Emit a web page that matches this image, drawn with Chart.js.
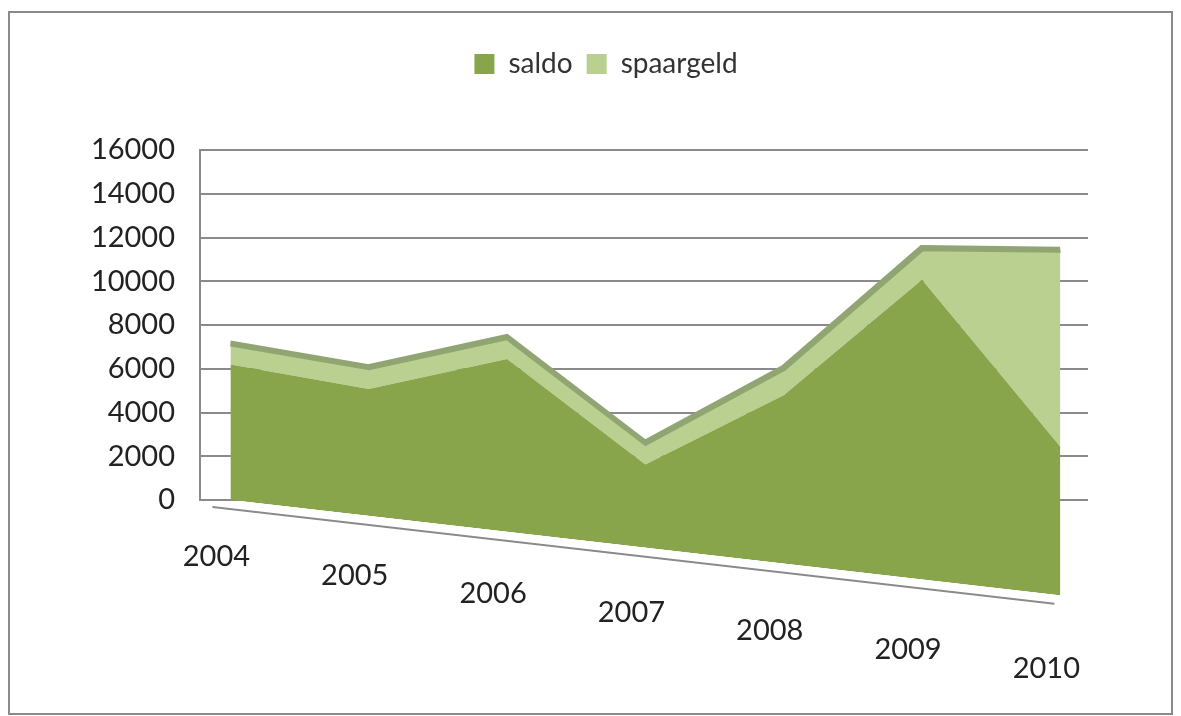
<!DOCTYPE html>
<html>
<head>
<meta charset="utf-8">
<title>saldo / spaargeld</title>
<script src="https://cdn.jsdelivr.net/npm/chart.js@4.4.1/dist/chart.umd.min.js"></script>
<style>
  html, body { margin: 0; padding: 0; background: #fff; }
  #wrap { position: relative; width: 1181px; height: 716px; }
  #frame {
    position: absolute; left: 8px; top: 11px; width: 1161px; height: 700px;
    border: 2px solid #8a8a8a; box-sizing: content-box;
  }
  canvas { position: absolute; left: 0; top: 0; }
</style>
</head>
<body>
<div id="wrap">
  <div id="frame"></div>
  <canvas id="chart" width="1181" height="716"></canvas>
</div>
<script>
/* ── Data ── */
const years = ['2004', '2005', '2006', '2007', '2008', '2009', '2010'];
const saldo = [6200, 5800, 7900, 3800, 7700, 13700, 6800];
const spaargeld = [950, 1000, 1000, 1000, 1250, 1450, 9000];
const yTicks = [0, 2000, 4000, 6000, 8000, 10000, 12000, 14000, 16000];

const FONT = 'Lato, "Open Sans", sans-serif';
const SLOPE = 0.115;       // fake 3D tilt of the front face
const LABEL_SLOPE = 0.134; // category labels step down the floor

/* ── Plugins ── */
// extra room under the legend, and nudge it right like the original
const legendGap = {
  id: 'legendGap',
  beforeInit(chart) {
    const legend = chart.legend;
    const fit = legend.fit;
    legend.fit = function () {
      fit.bind(legend)();
      this.height += 62;
    };
    const draw = legend.draw;
    legend.draw = function (...args) {
      this.ctx.save();
      this.ctx.translate(37, 0);
      draw.apply(legend, args);
      this.ctx.restore();
    };
  },
};

// tilt the areas so the baseline runs down to the right
const tilt = {
  id: 'tilt',
  beforeDatasetsDraw(chart) {
    const { ctx, chartArea, scales } = chart;
    const x0 = scales.x.getPixelForValue(0);
    ctx.save();
    ctx.transform(1, SLOPE, 0, 1, 0, -SLOPE * x0);
    // floor edge
    ctx.strokeStyle = '#8a8a8a';
    ctx.lineWidth = 2;
    ctx.beginPath();
    ctx.moveTo(x0 - 18, chartArea.bottom + 9);
    ctx.lineTo(scales.x.getPixelForValue(years.length - 1) - 6, chartArea.bottom + 9);
    ctx.stroke();
  },
  afterDatasetsDraw(chart) {
    chart.ctx.restore();
  },
};

// category labels, stepping down with the floor
const yearLabels = {
  id: 'yearLabels',
  afterDraw(chart) {
    const { ctx, chartArea, scales } = chart;
    const x0 = scales.x.getPixelForValue(0);
    ctx.save();
    ctx.font = '29px ' + FONT;
    ctx.fillStyle = '#222';
    ctx.textAlign = 'center';
    ctx.textBaseline = 'middle';
    years.forEach((yr, i) => {
      const px = scales.x.getPixelForValue(i);
      ctx.fillText(yr, px - 14, chartArea.bottom + 57 + LABEL_SLOPE * (px - x0));
    });
    ctx.restore();
  },
};

/* ── Chart ── */
new Chart(document.getElementById('chart'), {
  type: 'line',
  data: {
    datasets: [
      {
        label: 'saldo',
        data: saldo.map((v, i) => ({ x: i, y: v })),
        backgroundColor: '#88a54b',
        borderColor: '#88a54b',
        borderWidth: 0,
        fill: 'origin',
        pointRadius: 0,
        tension: 0,
        clip: false,
      },
      {
        label: 'spaargeld',
        data: spaargeld.map((v, i) => ({ x: i, y: v })),
        backgroundColor: '#b9d090',
        borderColor: '#91a572',
        borderWidth: 6,
        fill: '-1',
        pointRadius: 0,
        tension: 0,
        clip: false,
      },
    ],
  },
  options: {
    responsive: false,
    animation: false,
    layout: { padding: { top: 36, left: 50, right: 93, bottom: 216 } },
    plugins: {
      tooltip: { enabled: false },
      legend: {
        position: 'top',
        labels: {
          boxWidth: 20,
          boxHeight: 20,
          padding: 14,
          color: '#333',
          font: { family: FONT, size: 28 },
          generateLabels(chart) {
            return Chart.defaults.plugins.legend.labels.generateLabels(chart).map((l) => {
              l.lineWidth = 0;
              l.strokeStyle = 'rgba(0,0,0,0)';
              return l;
            });
          },
        },
      },
    },
    scales: {
      x: {
        type: 'linear',
        display: false,
        min: -0.22,
        max: 6.2,
      },
      y: {
        stacked: true,
        min: 0,
        max: 16000,
        afterBuildTicks(scale) {
          scale.ticks = yTicks.map((v) => ({ value: v }));
        },
        afterFit(scale) {
          scale.width = 150;
        },
        ticks: {
          padding: 25,
          color: '#222',
          font: { family: FONT, size: 29 },
          callback: (v) => String(v),
        },
        grid: { color: '#8a8a8a', lineWidth: 2, drawTicks: false },
        border: { display: true, color: '#8a8a8a', width: 2 },
      },
    },
  },
  plugins: [legendGap, tilt, yearLabels],
});
</script>
</body>
</html>
